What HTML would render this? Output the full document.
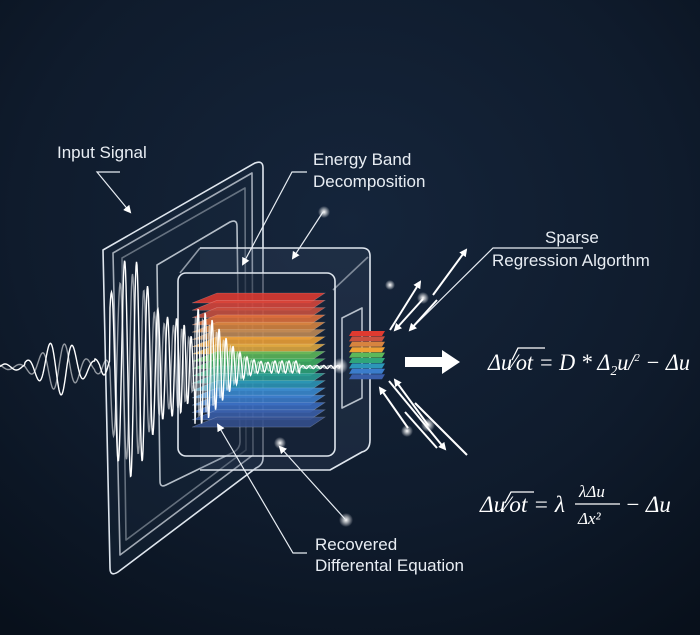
<!DOCTYPE html>
<html><head><meta charset="utf-8"><style>
html,body{margin:0;padding:0;background:#0c1625;}
svg{display:block}
.lb{font-family:"Liberation Sans",sans-serif;font-size:17px;fill:#e8edf3}
.eq{font-family:"Liberation Serif",serif;font-style:italic;fill:#fff}
</style></head><body>
<svg id="s" width="700" height="635" viewBox="0 0 700 635" xmlns="http://www.w3.org/2000/svg">
<defs>
<radialGradient id="bg" cx="0.5" cy="0.35" r="0.8">
<stop offset="0" stop-color="#15253b"/><stop offset="0.6" stop-color="#0f1b2c"/><stop offset="1" stop-color="#08101b"/>
</radialGradient>
<radialGradient id="glow"><stop offset="0" stop-color="#fff"/><stop offset="0.3" stop-color="#fff" stop-opacity="0.7"/><stop offset="1" stop-color="#fff" stop-opacity="0"/></radialGradient>
<marker id="ah" markerWidth="8" markerHeight="8" refX="6" refY="4" orient="auto" markerUnits="userSpaceOnUse"><path d="M0,0 L8,4 L0,8 z" fill="#fff"/></marker>
</defs>
<rect width="700" height="635" fill="url(#bg)"/>
<g fill="none" stroke="#dfe6ee" stroke-width="1.6" stroke-linejoin="round">
<path d="M103,250 L255,163 Q263,160 263,168 L263,458 Q263,465 256,468 L118,572 Q110,577 110,568 Z" fill="#1a2a40" fill-opacity="0.35"/>
<path d="M113,253 L252,173 L253,455 L120,555 Z" stroke-opacity="0.7"/>
<path d="M122,258 L245,188 L246,450 L126,540 Z" stroke-opacity="0.4"/>
<path d="M157,265 L230,222 Q237,219 237,226 L240,442 Q240,448 234,452 L166,485 Q160,488 160,481 Z" stroke-opacity="0.8"/>
<path d="M200,248 L362,248 Q370,248 370,256 L370,440 Q370,450 362,452 L330,470 L200,470" fill="#3a4c66" fill-opacity="0.25"/>
<path d="M200,248 L180,273" stroke-opacity="0.6"/>
<rect x="178" y="273" width="157" height="183" rx="8" fill="#101c2e" fill-opacity="0.5"/>
<path d="M333,290 L368,257" stroke-opacity="0.5"/>
<path d="M342,318 L362,308 L362,398 L342,408 Z" stroke-opacity="0.8"/>
</g>
<g id="layers"></g>
<g id="small"></g>
<g fill="none" stroke="#fff" stroke-width="1.4" id="waves"></g>
<g>
<circle cx="324" cy="212" r="6" fill="url(#glow)"/>
<circle cx="340" cy="366" r="8" fill="url(#glow)"/>
<circle cx="280" cy="443" r="6" fill="url(#glow)"/>
<circle cx="346" cy="520" r="7" fill="url(#glow)"/>
<circle cx="423" cy="298" r="6" fill="url(#glow)"/>
<circle cx="428" cy="425" r="7" fill="url(#glow)"/>
<circle cx="407" cy="431" r="6" fill="url(#glow)"/>
<circle cx="390" cy="285" r="5" fill="url(#glow)"/>
</g>
<g fill="none" stroke="#e8edf3" stroke-width="1.2">
<path d="M120,172 L97,172 L130,212" marker-end="url(#ah)"/>
<path d="M307,172 L292,172 L243,264" marker-end="url(#ah)"/>
<path d="M323,212 L293,258" marker-end="url(#ah)"/>
<path d="M307,553 L293,553 L218,425" marker-end="url(#ah)"/>
<path d="M345,519 L280,447" marker-end="url(#ah)"/>
<path d="M583,248 L493,248 L410,330"/>
</g>
<g fill="none" stroke="#fff" stroke-width="2">
<path d="M433,295 L466,250" marker-end="url(#ah)"/>
<path d="M390,330 L420,282" marker-end="url(#ah)"/>
<path d="M423,299 L395,330" marker-end="url(#ah)"/>
<path d="M437,300 L410,330" marker-end="url(#ah)"/>
<path d="M389,381 L445,449" marker-end="url(#ah)"/>
<path d="M408,428 L380,388" marker-end="url(#ah)"/>
<path d="M428,425 L395,380" marker-end="url(#ah)"/>
<path d="M467,455 L415,403"/>
<path d="M405,412 L437,448"/>
</g>
<path d="M405,357 L442,357 L442,350 L460,362 L442,374 L442,367 L405,367 Z" fill="#fff"/>
<text class="lb" x="57" y="158">Input Signal</text>
<text class="lb" x="313" y="165">Energy Band</text>
<text class="lb" x="313" y="187">Decomposition</text>
<text class="lb" x="545" y="243">Sparse</text>
<text class="lb" x="492" y="266">Regression Algorthm</text>
<text class="lb" x="315" y="550">Recovered</text>
<text class="lb" x="315" y="571">Differental Equation</text>
<text class="eq" x="488" y="370" font-size="23" textLength="202" lengthAdjust="spacingAndGlyphs">Δu<tspan font-style="normal">⁄</tspan>ot = D * Δ<tspan font-size="14" dy="5">2</tspan><tspan dy="-5">u/</tspan><tspan font-size="11" dy="-9">2</tspan><tspan dy="9"> − Δu</tspan></text>
<path d="M512,360 L518,348 L545,348" stroke="#fff" stroke-width="1.3" fill="none"/>
<text class="eq" x="480" y="512" font-size="23" textLength="85" lengthAdjust="spacingAndGlyphs">Δu<tspan font-style="normal">⁄</tspan>ot = λ</text>
<path d="M505,503 L511,492 L534,492" stroke="#fff" stroke-width="1.3" fill="none"/>
<text class="eq" x="579" y="497" font-size="17">λΔu</text>
<line x1="575" y1="504" x2="620" y2="504" stroke="#fff" stroke-width="1.2"/>
<text class="eq" x="578" y="524" font-size="17">Δx²</text>
<text class="eq" x="625" y="512" font-size="23">− Δu</text>
</svg>
<script>
var NS="http://www.w3.org/2000/svg";
var cols=["#e03a30","#d9453a","#c9503f","#e0703a","#d7843f","#c08a55","#eea035","#e0a840","#5cb85a","#3fae62","#2fa57a","#2a9e95","#2c96b8","#3a8ad0","#3b7ccb","#3a6cc0","#3a5eaa","#34508e"];
var L=document.getElementById("layers");
for(var i=0;i<cols.length;i++){var y=293+i*7.3;var p=document.createElementNS(NS,"polygon");
p.setAttribute("points",(217)+","+y+" 325,"+y+" 310,"+(y+10)+" 192,"+(y+10));
p.setAttribute("fill",cols[i]);p.setAttribute("fill-opacity","0.88");p.setAttribute("stroke","#fff");p.setAttribute("stroke-opacity","0.25");p.setAttribute("stroke-width","0.6");L.appendChild(p);}
var S=document.getElementById("small");
for(var i=0;i<cols.length;i+=2){var y=331+i*2.7;var p=document.createElementNS(NS,"polygon");
p.setAttribute("points","352,"+y+" 385,"+y+" 382,"+(y+5)+" 349,"+(y+5));p.setAttribute("fill",cols[i]);S.appendChild(p);}
function env(x){
 if(x<25) return 3;
 if(x<95) return 24*Math.exp(-Math.pow((x-60)/22,2))+4;
 if(x<110) return 8;
 if(x<195) return 110*Math.exp(-Math.pow((x-130)/30,2))+40*Math.exp(-Math.pow((x-180)/20,2));
 if(x<270) return 55*Math.exp(-Math.pow((x-195)/35,2))+4;
 if(x<300) return 6;
 return 1.5;}
function fr(x){return x<100?0.28:(x<180?0.4+(x-100)*0.004:0.9);}
var W=document.getElementById("waves");
[[0,0,1],[0.9,1.3,0.55]].forEach(function(o){
 var d="",ph=o[0];for(var x=0;x<=340;x+=0.5){ph+=fr(x)*0.5;var y=367-env(x)*Math.sin(ph+o[1])*(o[2]==1?1:0.85);d+=(x?"L":"M")+x.toFixed(1)+","+y.toFixed(1);}
 var p=document.createElementNS(NS,"path");p.setAttribute("d",d);p.setAttribute("stroke-opacity",o[2]);W.appendChild(p);});
</script>
</body></html>
